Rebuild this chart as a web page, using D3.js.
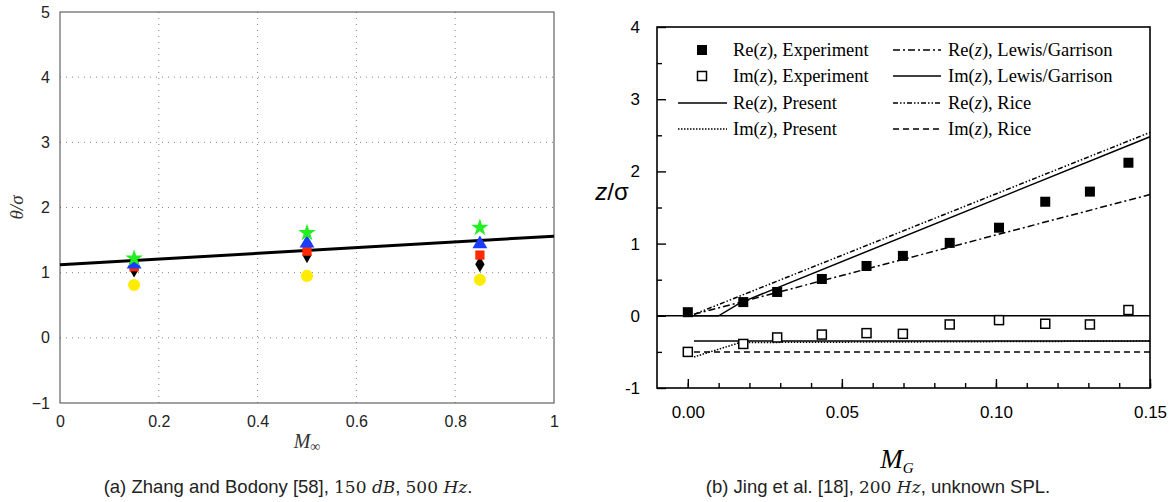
<!DOCTYPE html>
<html>
<head>
<meta charset="utf-8">
<script src="https://cdn.jsdelivr.net/npm/d3@7"></script>
<style>
body { margin: 0; background: #fff; }
svg { display: block; }
</style>
</head>
<body>
<script>
const W = 1174, H = 502;

// ---- left chart data (a) ----
const machLeft = [0.15, 0.5, 0.85];
const starVals = [1.22, 1.61, 1.69];
const triVals = [1.13, 1.45, 1.44];
const sqVals = [1.09, 1.33, 1.27];
const diaVals = [1.05, 1.27, 1.13];
const circVals = [0.81, 0.95, 0.89];
const fitLeft = [[0, 1.12], [1, 1.56]];
const leftXTicks = [0, 0.2, 0.4, 0.6, 0.8, 1];
const leftYTicks = [-1, 0, 1, 2, 3, 4, 5];

// ---- right chart data (b) ----
const mgExp = [0.0, 0.018, 0.029, 0.0435, 0.058, 0.0698, 0.085, 0.101, 0.116, 0.1305, 0.143];
const reExp = [0.05, 0.19, 0.33, 0.51, 0.69, 0.83, 1.01, 1.22, 1.58, 1.72, 2.12];
const imExp = [-0.5, -0.39, -0.3, -0.26, -0.24, -0.25, -0.12, -0.06, -0.11, -0.12, 0.08];
const rePresent = [[0.0, 0], [0.010, 0], [0.017, 0.18], [0.15, 2.48]];
const imPresent = [[0.002, -0.57], [0.017, -0.37], [0.15, -0.35]];
const reLewis = [[0.002, 0.02], [0.15, 1.68]];
const imLewis = [[0.002, -0.35], [0.15, -0.35]];
const reRice = [[0.002, 0.02], [0.15, 2.54]];
const imRice = [[0.002, -0.5], [0.15, -0.5]];
const rightXTicks = [0, 0.05, 0.10, 0.15];
const rightYTicks = [-1, 0, 1, 2, 3, 4];

const svg = d3.select("body").append("svg")
    .attr("width", W).attr("height", H);

const sans = "Liberation Sans, Arial, sans-serif";
const serif = "Liberation Serif, Times New Roman, serif";
const mathFont = "DejaVu Serif, serif";

// ================= (a) =================
const xL = d3.scaleLinear().domain([0, 1]).range([60, 554]);
const yL = d3.scaleLinear().domain([-1, 5]).range([403, 12]);

const gL = svg.append("g");

// dotted grid (faint)
gL.selectAll(".hgrid").data(leftYTicks.filter(d => d > -1 && d < 5)).enter()
    .append("line")
    .attr("x1", xL(0)).attr("x2", xL(1))
    .attr("y1", d => yL(d)).attr("y2", d => yL(d))
    .attr("stroke", "#666").attr("stroke-width", 0.8)
    .attr("stroke-dasharray", "1,5");
gL.selectAll(".vgrid").data(leftXTicks.filter(d => d > 0 && d < 1)).enter()
    .append("line")
    .attr("x1", d => xL(d)).attr("x2", d => xL(d))
    .attr("y1", yL(-1)).attr("y2", yL(5))
    .attr("stroke", "#666").attr("stroke-width", 0.8)
    .attr("stroke-dasharray", "1,5");

gL.append("g")
    .attr("transform", "translate(0," + yL(-1) + ")")
    .call(d3.axisBottom(xL).tickValues(leftXTicks).tickSize(0).tickPadding(13)
        .tickFormat(d3.format("~g")))
    .call(g => g.select(".domain").remove())
    .selectAll("text")
    .style("font-family", sans)
    .style("font-size", "16px").attr("fill", "#222");

gL.append("g")
    .attr("transform", "translate(" + xL(0) + ",0)")
    .call(d3.axisLeft(yL).tickValues(leftYTicks).tickSize(0).tickPadding(10)
        .tickFormat(d => d < 0 ? "\u2212" + Math.abs(d) : String(d)))
    .call(g => g.select(".domain").remove())
    .selectAll("text")
    .style("font-family", sans)
    .style("font-size", "16px").attr("fill", "#222");

gL.append("rect")
    .attr("x", xL(0)).attr("y", yL(5))
    .attr("width", xL(1) - xL(0)).attr("height", yL(-1) - yL(5))
    .attr("fill", "none").attr("stroke", "#444").attr("stroke-width", 1);

// fit line
gL.append("path")
    .datum(fitLeft)
    .attr("d", d3.line().x(d => xL(d[0])).y(d => yL(d[1])))
    .attr("fill", "none").attr("stroke", "#000").attr("stroke-width", 3);

const markerSets = [
    { vals: circVals, type: d3.symbolCircle, size: 115, color: "#ffec00" },
    { vals: diaVals, type: d3.symbolDiamond, size: 75, color: "#000" },
    { vals: sqVals, type: d3.symbolSquare, size: 85, color: "#ff2a00" },
    { vals: triVals, type: d3.symbolTriangle, size: 95, color: "#1a3cff" },
    { vals: starVals, type: d3.symbolStar, size: 95, color: "#22ee22" }
];
markerSets.forEach(s => {
    gL.selectAll(null).data(machLeft).enter()
        .append("path")
        .attr("transform", (d, i) => "translate(" + xL(d) + "," + yL(s.vals[i]) + ")")
        .attr("d", d3.symbol().type(s.type).size(s.size))
        .attr("fill", s.color);
});

gL.append("text")
    .attr("transform", "translate(23," + yL(2) + ") rotate(-90)")
    .attr("text-anchor", "middle")
    .style("font-family", serif).style("font-style", "italic")
    .style("font-size", "19px").attr("fill", "#333")
    .text("θ/σ");

gL.append("text")
    .attr("x", xL(0.5)).attr("y", 448)
    .attr("text-anchor", "middle")
    .style("font-family", serif)
    .style("font-size", "20px").attr("fill", "#333")
    .call(t => {
        t.append("tspan").style("font-style", "italic").text("M");
        t.append("tspan").style("font-size", "14px").attr("dy", 3).text("∞");
    });

// caption a
svg.append("text")
    .attr("x", 288).attr("y", 493)
    .attr("text-anchor", "middle")
    .style("font-family", sans)
    .style("font-size", "18.5px").attr("fill", "#222")
    .call(t => {
        t.append("tspan").text("(a) Zhang and Bodony [58], ");
        t.append("tspan").style("font-family", mathFont).style("font-size", "17px").text("150 ");
        t.append("tspan").style("font-family", mathFont).style("font-size", "17px").style("font-style", "italic").text("dB");
        t.append("tspan").text(", ");
        t.append("tspan").style("font-family", mathFont).style("font-size", "17px").text("500 ");
        t.append("tspan").style("font-family", mathFont).style("font-size", "17px").style("font-style", "italic").text("Hz");
        t.append("tspan").text(".");
    });

// ================= (b) =================
const xR = d3.scaleLinear().domain([-0.01, 0.15]).range([657, 1150]);
const yR = d3.scaleLinear().domain([-1, 4]).range([388, 27]);
const gR = svg.append("g");

gR.append("rect")
    .attr("x", xR(-0.01)).attr("y", yR(4))
    .attr("width", xR(0.15) - xR(-0.01)).attr("height", yR(-1) - yR(4))
    .attr("fill", "none").attr("stroke", "#000").attr("stroke-width", 1.6);

// bottom ticks, inward
gR.append("g")
    .attr("transform", "translate(0," + yR(-1) + ")")
    .call(d3.axisBottom(xR).tickValues(d3.range(0, 0.151, 0.01)).tickSize(-5).tickFormat(""))
    .call(g => g.select(".domain").remove())
    .selectAll("line").attr("stroke-width", 1.4);
gR.append("g")
    .attr("transform", "translate(0," + yR(-1) + ")")
    .call(d3.axisBottom(xR).tickValues(rightXTicks).tickSize(-9).tickPadding(18)
        .tickFormat(d3.format(".2f")))
    .call(g => g.select(".domain").remove())
    .call(g => g.selectAll("line").attr("stroke-width", 1.4))
    .selectAll("text")
    .style("font-family", sans)
    .style("font-size", "17px").attr("fill", "#000");

// left ticks, inward
gR.append("g")
    .attr("transform", "translate(" + xR(-0.01) + ",0)")
    .call(d3.axisLeft(yR).tickValues(d3.range(-0.5, 4, 1)).tickSize(-5).tickFormat(""))
    .call(g => g.select(".domain").remove())
    .selectAll("line").attr("stroke-width", 1.4);
gR.append("g")
    .attr("transform", "translate(" + xR(-0.01) + ",0)")
    .call(d3.axisLeft(yR).tickValues(rightYTicks).tickSize(-9).tickPadding(17)
        .tickFormat(d => d < 0 ? "-" + Math.abs(d) : d))
    .call(g => g.select(".domain").remove())
    .call(g => g.selectAll("line").attr("stroke-width", 1.4))
    .selectAll("text")
    .style("font-family", sans)
    .style("font-size", "17px").attr("fill", "#000");

// zero line
gR.append("line")
    .attr("x1", xR(-0.01)).attr("x2", xR(0.15))
    .attr("y1", yR(0)).attr("y2", yR(0))
    .attr("stroke", "#000").attr("stroke-width", 1.6);

const lineR = d3.line().x(d => xR(d[0])).y(d => yR(d[1]));
const curves = [
    { data: imRice, dash: "6,4" },
    { data: imLewis, dash: null },
    { data: imPresent, dash: "1.5,1.5" },
    { data: reRice, dash: "5,2,1.5,2,1.5,2" },
    { data: reLewis, dash: "7,3,2,3" },
    { data: rePresent, dash: null }
];
curves.forEach(c => {
    gR.append("path")
        .datum(c.data)
        .attr("d", lineR)
        .attr("fill", "none").attr("stroke", "#000").attr("stroke-width", 1.5)
        .attr("stroke-dasharray", c.dash);
});

gR.selectAll(".reexp").data(mgExp).enter()
    .append("rect")
    .attr("x", (d) => xR(d) - 5).attr("y", (d, i) => yR(reExp[i]) - 5)
    .attr("width", 10).attr("height", 10)
    .attr("fill", "#000");
gR.selectAll(".imexp").data(mgExp).enter()
    .append("rect")
    .attr("x", (d) => xR(d) - 4.5).attr("y", (d, i) => yR(imExp[i]) - 4.5)
    .attr("width", 9).attr("height", 9)
    .attr("fill", "#fff").attr("stroke", "#000").attr("stroke-width", 1.5);

// legend
const legRows = [50, 76, 103, 129];
function legText(x, y, pre, post) {
    gR.append("text")
        .attr("x", x).attr("y", y + 6)
        .style("font-family", serif).style("font-size", "18.5px").attr("fill", "#000")
        .call(t => {
            t.append("tspan").text(pre + "(");
            t.append("tspan").style("font-style", "italic").text("z");
            t.append("tspan").text("), " + post);
        });
}
gR.append("rect").attr("x", 697).attr("y", legRows[0] - 5).attr("width", 10).attr("height", 10).attr("fill", "#000");
gR.append("rect").attr("x", 697.5).attr("y", legRows[1] - 4.5).attr("width", 9).attr("height", 9)
    .attr("fill", "#fff").attr("stroke", "#000").attr("stroke-width", 1.5);
gR.append("line").attr("x1", 678).attr("x2", 727).attr("y1", legRows[2]).attr("y2", legRows[2])
    .attr("stroke", "#000").attr("stroke-width", 1.5);
gR.append("line").attr("x1", 678).attr("x2", 727).attr("y1", legRows[3]).attr("y2", legRows[3])
    .attr("stroke", "#000").attr("stroke-width", 1.5).attr("stroke-dasharray", "1.5,1.5");
legText(733, legRows[0], "Re", "Experiment");
legText(733, legRows[1], "Im", "Experiment");
legText(733, legRows[2], "Re", "Present");
legText(733, legRows[3], "Im", "Present");

const rightDash = ["7,3,2,3", null, "5,2,1.5,2,1.5,2", "6,4"];
rightDash.forEach((d, i) => {
    gR.append("line").attr("x1", 893).attr("x2", 941).attr("y1", legRows[i]).attr("y2", legRows[i])
        .attr("stroke", "#000").attr("stroke-width", 1.5).attr("stroke-dasharray", d);
});
legText(948, legRows[0], "Re", "Lewis/Garrison");
legText(948, legRows[1], "Im", "Lewis/Garrison");
legText(948, legRows[2], "Re", "Rice");
legText(948, legRows[3], "Im", "Rice");

// axis labels
gR.append("text")
    .attr("x", 612).attr("y", 200)
    .attr("text-anchor", "middle")
    .style("font-family", sans)
    .style("font-size", "24px").attr("fill", "#000")
    .call(t => {
        t.append("tspan").style("font-style", "italic").text("z");
        t.append("tspan").text("/σ");
    });

gR.append("text")
    .attr("x", 897).attr("y", 468)
    .attr("text-anchor", "middle")
    .style("font-family", serif)
    .style("font-size", "27px").style("font-style", "italic").attr("fill", "#000")
    .call(t => {
        t.append("tspan").text("M");
        t.append("tspan").style("font-size", "15px").attr("dy", 5).text("G");
    });

// caption b
svg.append("text")
    .attr("x", 878).attr("y", 493)
    .attr("text-anchor", "middle")
    .style("font-family", sans)
    .style("font-size", "18.5px").attr("fill", "#222")
    .call(t => {
        t.append("tspan").text("(b) Jing et al. [18], ");
        t.append("tspan").style("font-family", mathFont).style("font-size", "17px").text("200 ");
        t.append("tspan").style("font-family", mathFont).style("font-size", "17px").style("font-style", "italic").text("Hz");
        t.append("tspan").text(", unknown SPL.");
    });
</script>
</body>
</html>
